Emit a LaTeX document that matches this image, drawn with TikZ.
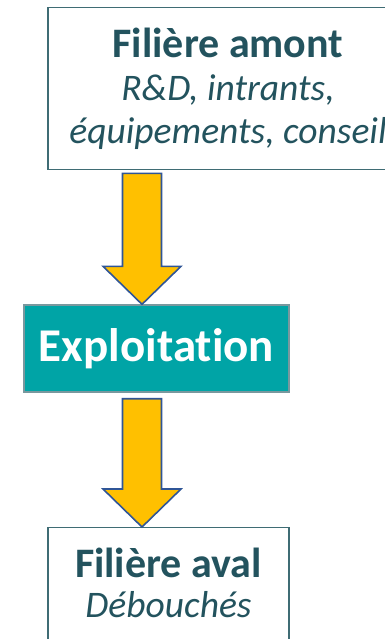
\documentclass[tikz,border=0pt]{standalone}
\usepackage{fontspec}
\setmainfont{Carlito}[Ligatures=CommonOff]
\usepackage{xcolor}
\usetikzlibrary{positioning, calc}
\definecolor{tealtext}{HTML}{23535E}
\definecolor{tealline}{HTML}{3F6C74}
\definecolor{tealfill}{HTML}{00A4A6}
\definecolor{arrowfill}{HTML}{FFC000}
\definecolor{arrowline}{HTML}{2F5597}
\tikzstyle{lightbox} = [rectangle, draw=tealline, line width=1.4pt, fill=white, text=tealtext, align=center, inner xsep=0pt, inner ysep=20.7pt, anchor=north]
\tikzstyle{mainbox} = [rectangle, draw=tealline!70, line width=1.4pt, fill=tealfill, text=white, align=center, inner sep=0pt]
\tikzstyle{bigarrow} = [draw=arrowline, line width=1.6pt, fill=arrowfill, line join=miter]
\newcommand{\boxtitle}[1]{{\fontsize{42}{43}\selectfont\upshape\bfseries #1}}
% block arrow: shaft top, tip
\newcommand{\flowarrow}[2]{%
  \draw[bigarrow] ($(#1)+(-19.5,0)$) -- ($(#1)+(19.5,0)$) -- ($(#2)+(19.5,-38)$) -- ($(#2)+(39,-38)$)
    -- (#2) -- ($(#2)+(-39,-38)$) -- ($(#2)+(-19.5,-38)$) -- cycle;}

\begin{document}
\begin{tikzpicture}[x=1pt, y=-1pt]
    \useasboundingbox (0,0) rectangle (385,639);
    \fill[white] (0,0) rectangle (385,639);

    % Filiere amont
    \node (amont) [lightbox, minimum width=360pt, text height=115pt, text depth=5.6pt, font=\fontsize{37.5}{43}\selectfont\itshape] at (228,7)
        {\boxtitle{Filière amont}\\R\&D, intrants,\\équipements, conseil};

    % Exploitation
    \node (exploit) [mainbox, minimum width=265pt, minimum height=87pt, font=\fontsize{47}{50}\selectfont\bfseries] at (156.5,348.5)
        {Exploitation};

    % Filiere aval
    \node (aval) [lightbox, minimum width=241pt, text height=69pt, text depth=60pt, font=\fontsize{37.5}{40}\selectfont\itshape] at (168.5,527)
        {\boxtitle{Filière aval}\\Débouchés};

    % Fleches
    \coordinate (axis) at (142,0);
    \coordinate (a1top) at ([yshift=-3pt]amont.south -| axis);
    \coordinate (a1tip) at (exploit.north -| axis);
    \coordinate (a2top) at ([yshift=-6pt]exploit.south -| axis);
    \coordinate (a2tip) at (aval.north -| axis);
    \flowarrow{a1top}{a1tip}
    \flowarrow{a2top}{a2tip}
\end{tikzpicture}
\end{document}
